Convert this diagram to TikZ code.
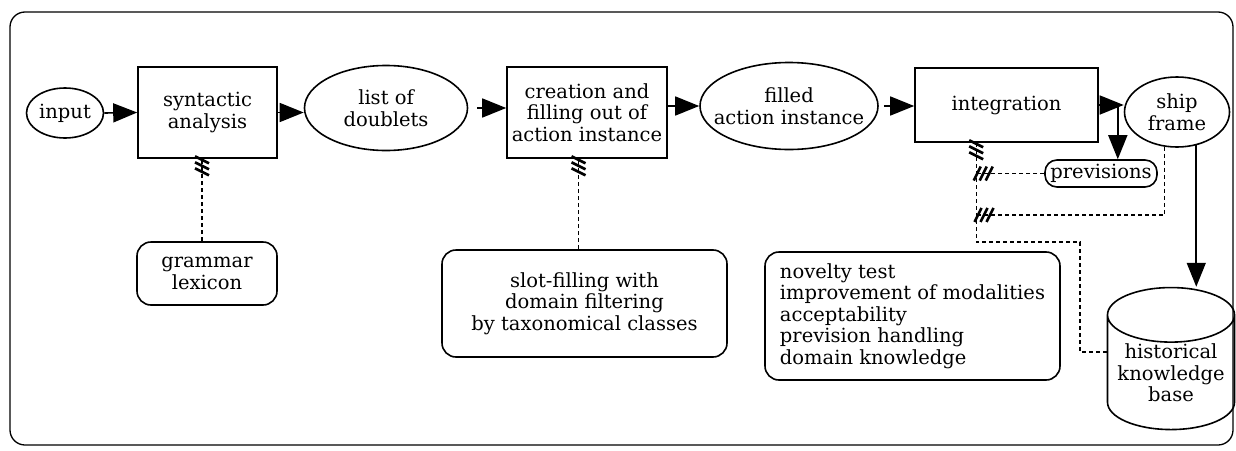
\documentclass[tikz,border=0pt]{standalone}
\usepackage{fontspec}
\setmainfont{DejaVu Serif}
\usetikzlibrary{shapes.geometric,arrows.meta,decorations.markings}

\begin{document}
\begin{tikzpicture}
[x=1pt,y=-1pt,font=\fontsize{19.5}{21.5}\selectfont,
 proc/.style={draw,line width=1.6pt,rectangle,align=center,inner sep=2pt},
 oval/.style={draw,line width=1.6pt,ellipse,align=center,inner xsep=-20pt,inner ysep=-10pt},
 know/.style={draw,line width=1.6pt,rounded corners=14pt,align=center,inner sep=2pt},
 flow/.style={line width=1.6pt,-{Triangle[length=24pt,width=19pt]}},
 feed/.style={line width=1.3pt,dash pattern=on 4pt off 3pt,postaction={decorate},
   decoration={markings,mark=at position -0.5pt with {
     \draw[solid,line width=2.6pt] (-4pt,-7pt) -- (3pt,7pt);
     \draw[solid,line width=2.6pt] (-10pt,-7pt) -- (-3pt,7pt);
     \draw[solid,line width=2.6pt] (-16pt,-7pt) -- (-9pt,7pt);}}}]
\useasboundingbox (0,0) rectangle (1236,450);
\draw[line width=1.3pt,rounded corners=15pt] (10,12) rectangle (1233,445);

% main chain
\node[oval,minimum width=77pt,minimum height=50pt] (input) at (65,113) {input};
\node[proc,minimum width=139pt,minimum height=91pt] (syn) at (207.5,112.5) {syntactic\\analysis};
\node[oval,minimum width=163pt,minimum height=85pt] (list) at (386,108) {list of\\doublets};
\node[proc,minimum width=160pt,minimum height=91pt] (create) at (587,112.5) {creation and\\filling out of\\action instance};
\node[oval,minimum width=178pt,minimum height=87pt] (filled) at (789,106) {filled\\action instance};
\node[proc,minimum width=183pt,minimum height=74pt] (integ) at (1006.5,105) {integration};
\node[oval,minimum width=105pt,minimum height=70pt] (ship) at (1177,112) {ship\\frame};
\node[know,rounded corners=12pt,minimum width=112pt,minimum height=27pt,inner sep=1pt] (prev) at (1101,173.5) {previsions};

% knowledge sources
\node[know,minimum width=140pt,minimum height=63pt] (gram) at (207,273.5) {grammar\\lexicon};
\node[know,minimum width=285pt,minimum height=107pt] (slot) at (584.5,303.5) {slot-filling with\\domain filtering\\by taxonomical classes};
\node[know,align=left,minimum width=295pt,minimum height=128pt] (novel) at (912.5,316) {novelty test\\improvement of modalities\\acceptability\\prevision handling\\domain knowledge};
\node[cylinder,draw,line width=1.6pt,shape border rotate=90,aspect=0.5,inner sep=1pt,minimum width=127pt,minimum height=142pt] (hist) at (1171,375) {\hphantom{knowledge}};
\node[align=center] (histtxt) at ([yshift=2pt]hist.center) {historical\\knowledge\\base};

\coordinate (split) at ([xshift=19pt]integ.east);
\coordinate (fb) at ([xshift=62pt]integ.south west);
\coordinate (bend) at (1080,242);
\coordinate (shipin) at (977,215);

\draw[flow] (input.east) -- (syn.west);
\draw[flow] (syn.east) -- (syn.east -| list.west);
\draw[flow] ([xshift=9pt]list.east) -- (create.west |- list.east);
\draw[flow] (create.east |- filled.west) -- (filled.west);
\draw[flow] ([xshift=5pt]filled.east) -- (integ.west |- filled.east);
\draw[flow] (integ.east) -- (integ.east -| ship.west);
\draw[flow] (split) -- (split |- prev.north);
\draw[flow] (ship.-60) -- (ship.-60 |- hist.top);

\draw[feed] ([xshift=-5pt]gram.north) -- ([xshift=-5pt]gram.north |- syn.south);
\draw[feed] ([xshift=-6pt]slot.north) -- ([xshift=-6pt]slot.north |- create.south);
\draw[feed] ([yshift=23pt]hist.west) -| (bend) -| (fb);
\draw[feed] (prev.west) -- (prev.west -| fb);
\draw[feed] (ship.-110) |- (shipin);
\end{tikzpicture}
\end{document}
